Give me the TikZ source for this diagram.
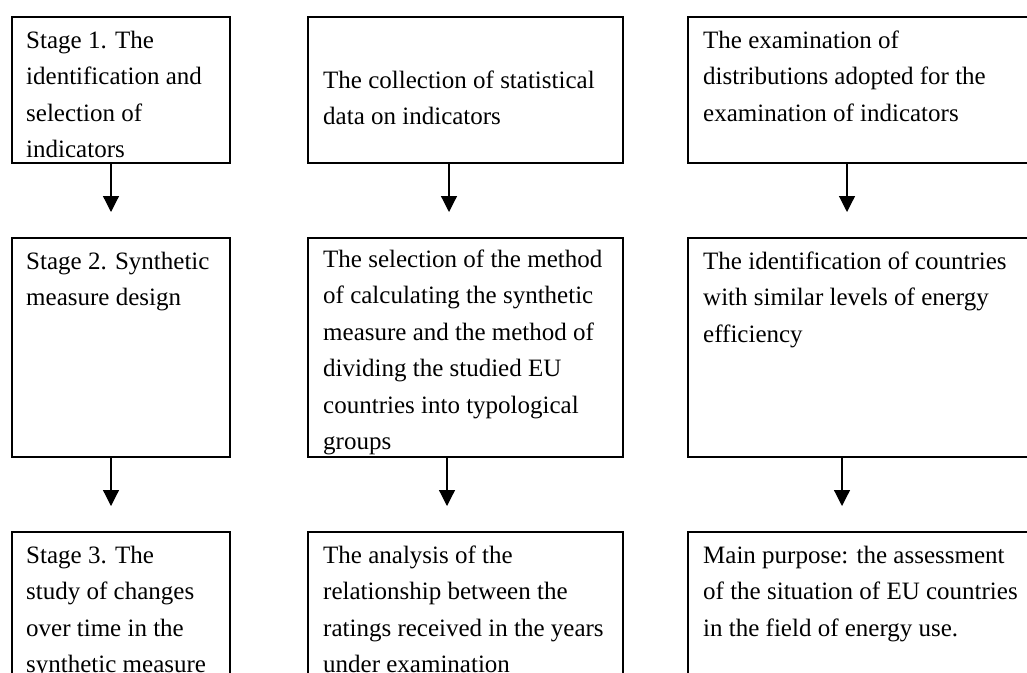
\documentclass[tikz,border=0pt]{standalone}
\usepackage{fontspec}
\setmainfont{Liberation Serif}
\usetikzlibrary{arrows.meta}
\begin{document}
\begin{tikzpicture}[x=1pt,y=-1pt,
  box/.style={draw, line width=2pt, rectangle, inner sep=0pt, anchor=north west},
  txt/.style={anchor=base west, inner sep=0pt, font=\fontsize{25}{36.5}\selectfont},
  arr/.style={line width=1.2pt, -{Triangle[width=16pt,length=16pt]}}]
\useasboundingbox (0,0) rectangle (1027,672);
% row 1
\node[box, minimum width=218pt, minimum height=146pt] (b11) at (11,16) {};
\node[box, minimum width=315pt, minimum height=146pt] (b12) at (307,16) {};
\node[box, minimum width=345pt, minimum height=146pt] (b13) at (687,16) {};
% row 2
\node[box, minimum width=218pt, minimum height=219pt] (b21) at (11,237) {};
\node[box, minimum width=315pt, minimum height=219pt] (b22) at (307,237) {};
\node[box, minimum width=345pt, minimum height=219pt] (b23) at (687,237) {};
% row 3
\node[box, minimum width=218pt, minimum height=170pt] (b31) at (11,531) {};
\node[box, minimum width=315pt, minimum height=170pt] (b32) at (307,531) {};
\node[box, minimum width=345pt, minimum height=170pt] (b33) at (687,531) {};
% texts
\node[txt] (t11) at (26,48) {\begin{tabular}[t]{@{}l@{}}Stage 1. The\\identification and\\selection of\\indicators\end{tabular}};
\node[txt] (t12) at (323,88) {\begin{tabular}[t]{@{}l@{}}The collection of statistical\\data on indicators\end{tabular}};
\node[txt] (t13) at (703,48) {\begin{tabular}[t]{@{}l@{}}The examination of\\distributions adopted for the\\examination of indicators\end{tabular}};
\node[txt] (t21) at (26,269) {\begin{tabular}[t]{@{}l@{}}Stage 2. Synthetic\\measure design\end{tabular}};
\node[txt] (t22) at (323,267) {\begin{tabular}[t]{@{}l@{}}The selection of the method\\of calculating the synthetic\\measure and the method of\\dividing the studied EU\\countries into typological\\groups\end{tabular}};
\node[txt] (t23) at (703,269) {\begin{tabular}[t]{@{}l@{}}The identification of countries\\with similar levels of energy\\efficiency\end{tabular}};
\node[txt] (t31) at (26,563) {\begin{tabular}[t]{@{}l@{}}Stage 3. The\\study of changes\\over time in the\\synthetic measure\end{tabular}};
\node[txt] (t32) at (323,563) {\begin{tabular}[t]{@{}l@{}}The analysis of the\\relationship between the\\ratings received in the years\\under examination\end{tabular}};
\node[txt] (t33) at (703,563) {\begin{tabular}[t]{@{}l@{}}Main purpose: the assessment\\of the situation of EU countries\\in the field of energy use.\end{tabular}};
% arrows
\coordinate (a11) at (111,212);
\coordinate (a12) at (449,212);
\coordinate (a13) at (847,212);
\coordinate (a21) at (111,506);
\coordinate (a22) at (447,506);
\coordinate (a23) at (842,506);
\draw[arr] (b11.south -| a11) -- (a11);
\draw[arr] (b12.south -| a12) -- (a12);
\draw[arr] (b13.south -| a13) -- (a13);
\draw[arr] (b21.south -| a21) -- (a21);
\draw[arr] (b22.south -| a22) -- (a22);
\draw[arr] (b23.south -| a23) -- (a23);
\end{tikzpicture}
\end{document}
